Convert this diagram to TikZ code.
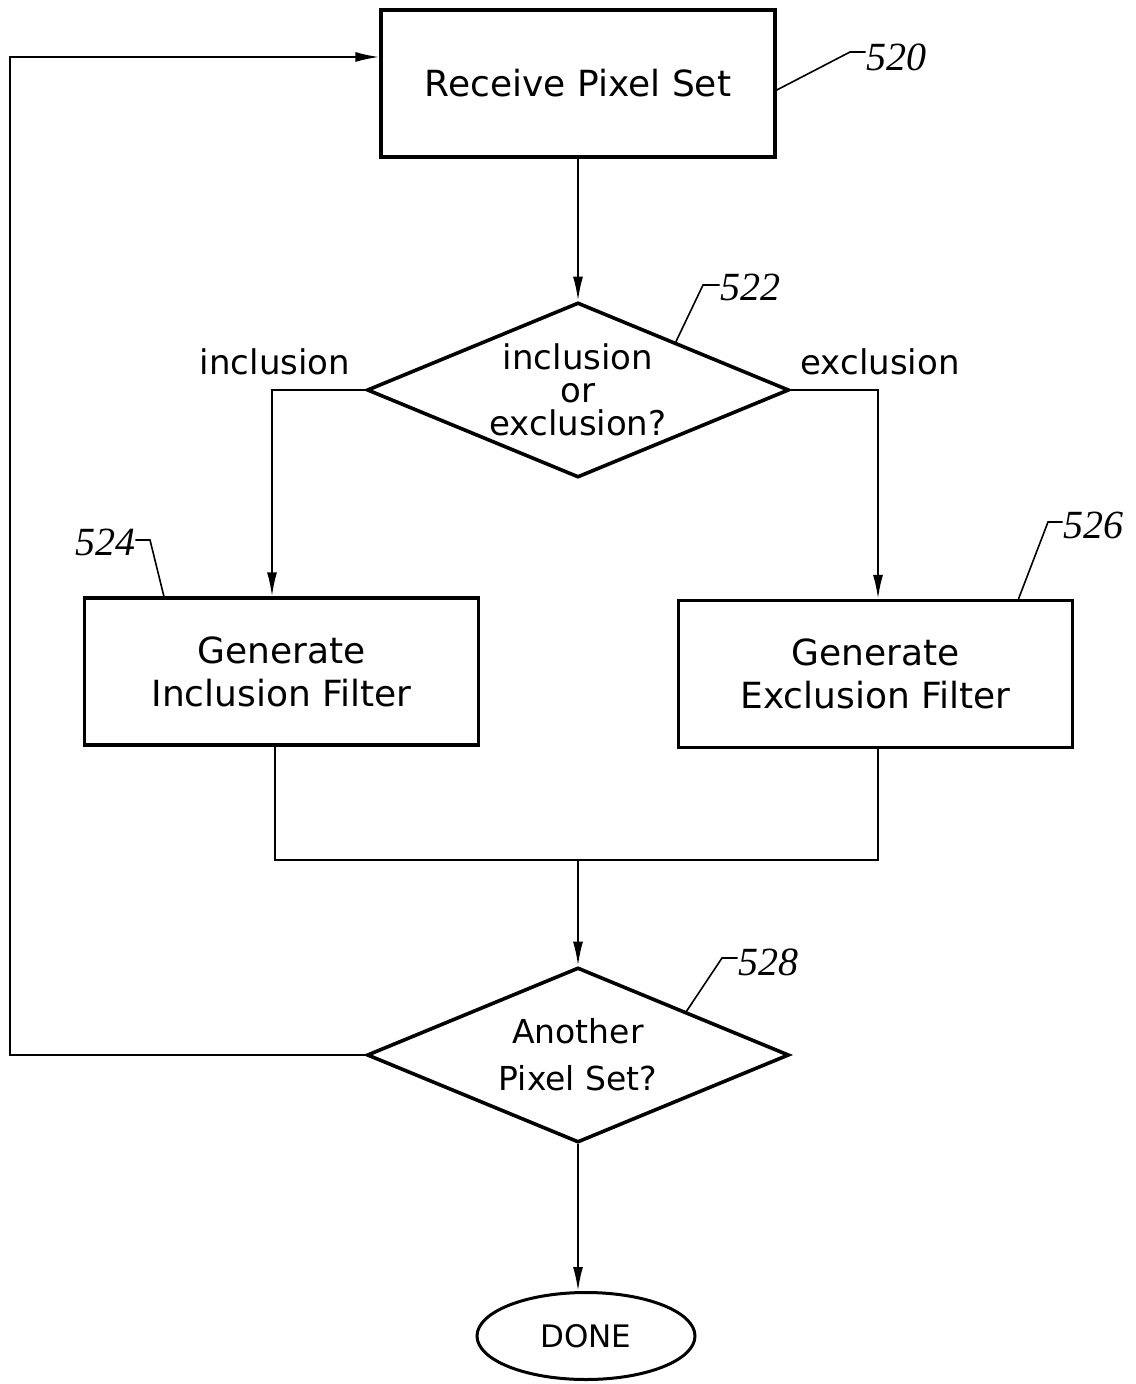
\documentclass[tikz,border=0pt]{standalone}
\usepackage{fontspec}
\setmainfont{Liberation Serif}
\setsansfont{DejaVu Sans}
\usetikzlibrary{shapes.geometric,arrows.meta,calc}
\begin{document}
\begin{tikzpicture}[x=0.5pt,y=-0.5pt,
  box/.style={draw,line width=1.6pt,minimum width=197pt,minimum height=73.5pt,inner sep=0pt,align=center,font=\sffamily\fontsize{18}{21.5}\selectfont},
  dec/.style={draw,shape=diamond,line width=1.8pt,minimum width=211pt,minimum height=87.5pt,aspect=2.4,inner sep=0pt,align=center},
  term/.style={draw,shape=ellipse,line width=1.5pt,minimum width=109pt,minimum height=43.5pt,inner sep=0pt,font=\sffamily\fontsize{15.5}{18}\selectfont},
  conn/.style={line width=1pt},
  arr/.style={conn,-{Latex[length=12pt,width=5pt]}},
  lead/.style={line width=0.8pt},
  refnum/.style={font=\itshape\fontsize{20}{22}\selectfont,inner sep=0pt},
  lbl/.style={font=\sffamily\fontsize{17}{20}\selectfont,inner sep=0pt}
]
\useasboundingbox (0,0) rectangle (1135,1384);

% main nodes
\node[box] (b520) at (578,83.5) {Receive Pixel Set};
\node[dec,font=\sffamily\fontsize{17}{16.5}\selectfont] (d522) at (578,390) {inclusion\\or\\exclusion?};
\node[box] (b524) at (281.5,671.5) {Generate\\Inclusion Filter};
\node[box] (b526) at (875.5,674) {Generate\\Exclusion Filter};
\node[dec,font=\sffamily\fontsize{16.5}{23.5}\selectfont] (d528) at (578,1055) {Another\\Pixel Set?};
\node[term] (done) at (586,1336) {DONE};

% branch labels
\node[lbl] (tinc) at (275,362) {inclusion};
\node[lbl] (texc) at (880,362) {exclusion};

% reference numerals
\node[refnum] (l520) at (896,57) {520};
\node[refnum] (l522) at (750,287) {522};
\node[refnum] (l524) at (105,542) {524};
\node[refnum] (l526) at (1093,525) {526};
\node[refnum] (l528) at (768,962) {528};

% leader lines
\coordinate (k520) at (850,52);
\draw[lead] ($(b520.north east)!0.544!(b520.south east)$) -- (k520) -- (k520 -| l520.west);
\coordinate (k522) at (703,285);
\draw[lead] ($(d522.north)!0.46!(d522.east)$) -- (k522) -- (k522 -| l522.west);
\coordinate (k524) at (150,540);
\draw[lead] ($(b524.north west)!0.204!(b524.north east)$) -- (k524) -- (k524 -| l524.east);
\coordinate (k526) at (1048,522);
\draw[lead] ($(b526.north west)!0.86!(b526.north east)$) -- (k526) -- (k526 -| l526.west);
\coordinate (k528) at (722,958);
\draw[lead] ($(d528.north)!0.51!(d528.east)$) -- (k528) -- (k528 -| l528.west);

% connectors
\draw[arr] (b520.south) -- (d522.north);
\coordinate (inc) at (272,390);
\coordinate (exc) at (878,390);
\draw[arr] (d522.west) -- (inc) -- (inc |- b524.north);
\draw[arr] (d522.east) -- (exc) -- (exc |- b526.north);
\coordinate (mL) at (275,860);
\coordinate (mR) at (878,860);
\draw[conn] (mL |- b524.south) -- (mL) -- (mR) -- (mR |- b526.south);
\draw[arr] (d528.north |- mL) -- (d528.north);
\coordinate (loop) at (10,57);
\draw[arr] (d528.west) -| (loop) -- (loop -| b520.west);
\draw[arr] (d528.south) -- (d528.south |- done.north);
\end{tikzpicture}
\end{document}
